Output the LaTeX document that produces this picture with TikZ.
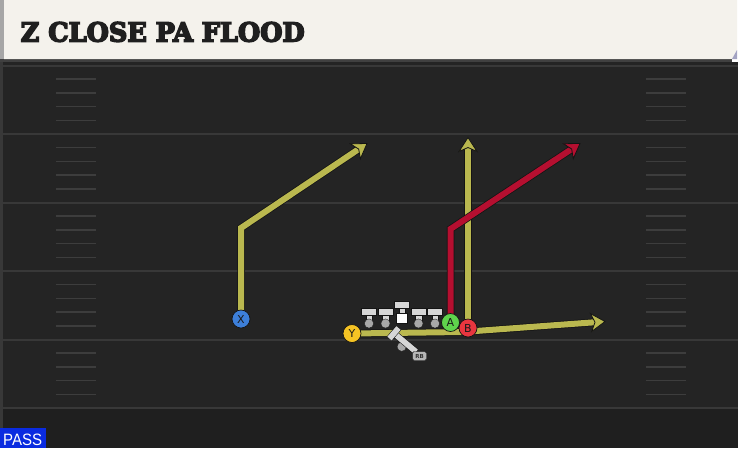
\documentclass[tikz,border=0pt]{standalone}
\usepackage{fontspec}
\setmainfont{DejaVu Sans}
\newfontfamily\titlefont{DejaVu Serif}
\newfontfamily\passfont{Liberation Sans}
\usetikzlibrary{calc}
\definecolor{fieldc}{HTML}{242424}
\definecolor{yardc}{HTML}{383838}
\definecolor{hashc}{HTML}{3D3D3D}
\definecolor{headc}{HTML}{F4F2EC}
\definecolor{edgec}{HTML}{141414}
\definecolor{yroute}{HTML}{BAB84F}
\definecolor{rroute}{HTML}{B50F30}
\definecolor{xblue}{HTML}{3D7FD9}
\definecolor{yyellow}{HTML}{F5C324}
\definecolor{agreen}{HTML}{5FD44C}
\definecolor{bred}{HTML}{E8363F}
\definecolor{linec}{HTML}{D6D6D6}
\definecolor{dotc}{HTML}{A8A8A8}
\definecolor{passblue}{HTML}{0A2BE0}
\pgfdeclarelayer{bg}
\pgfdeclarelayer{routes}
\pgfsetlayers{bg,routes,main}
\tikzset{
  route/.style={line width=6pt, draw=#1, shorten >=9pt},
  routeunder/.style={line width=7.5pt, draw=edgec, shorten >=9pt},
  routetip/.style={fill=#1, draw=edgec, line width=0.8pt, line join=miter},
  player/.style={circle, draw=edgec, line width=0.7pt, minimum size=18pt,
    inner sep=0pt, fill=#1, text=black!90, font=\fontsize{11}{11}\selectfont},
  yard/.style={draw=yardc, line width=2pt},
  hash/.style={draw=hashc, line width=1.5pt},
  lineman/.style={fill=linec, draw=edgec, line width=0.3pt},
}
% #1 = point before tip, #2 = tip point, #3 = colour
\newcommand\routetipat[3]{%
  \filldraw[routetip=#3] (#2)
    -- ($(#2)!14pt!(#1)!9pt!90:(#2)$)
    -- ($(#2)!10pt!(#1)$)
    -- ($(#2)!14pt!(#1)!9pt!-90:(#2)$) -- cycle;}
\begin{document}
\begin{tikzpicture}[x=1pt,y=-1pt]
\useasboundingbox (0,0) rectangle (738,448);
\begin{pgfonlayer}{bg}
  % field
  \fill[fieldc] (0,59) rectangle (738,448);
  \fill[black!15!fieldc] (0,408) rectangle (738,448);
  \fill[black!75] (0,59) rectangle (738,62);
  \fill[yardc] (0,62) rectangle (2.5,448);
  % yard lines and hashes
  \foreach \k in {0,...,5} {
    \pgfmathsetmacro{\yy}{65.5+68.5*\k}
    \draw[yard] (0,\yy) -- (738,\yy);
  }
  \foreach \k in {0,...,4} {
    \foreach \i in {1,...,4} {
      \pgfmathsetmacro{\yy}{65.5+68.5*\k+13.7*\i}
      \draw[hash] (56,\yy) -- (96,\yy);
      \draw[hash] (646,\yy) -- (686,\yy);
    }
  }
  % header
  \fill[white] (732,0) rectangle (738,62);
  \fill[headc] (4,0) -- (737,0) -- (737,50) -- (732,59) -- (4,59) -- cycle;
  \fill[gray!70] (0,0) rectangle (4,59);
  \fill[gray!80!blue!60] (732,59) -- (737,50) -- (737,59) -- cycle;
\end{pgfonlayer}

% title and tag
\node[anchor=base west, inner sep=0pt, text=black!88] (title) at (20.5,41.5)
  {\resizebox{284pt}{19.5pt}{\special{pdf:literal direct 2 Tr 0.6 w}\titlefont\bfseries Z CLOSE PA FLOOD\special{pdf:literal direct 0 Tr}}};
\fill[passblue] (0,428) rectangle (46,448);
\node[anchor=base west, inner sep=0pt, text=white] (pass) at (3,445)
  {\resizebox{39pt}{11.5pt}{\passfont PASS}};

% players
\node[player=xblue] (X) at (241,319) {X};
\node[player=yyellow] (Y) at (352,333.5) {Y};
\node[player=agreen] (A) at (450.5,322.5) {A};
\node[player=bred] (B) at (468,328) {B};

% route points
\coordinate (x1) at (241,228);
\coordinate (x2) at (367,143.5);
\coordinate (a1) at (450.5,229);
\coordinate (a2) at (580,143.5);
\coordinate (b1) at (468,137.5);
\coordinate (y1) at (462,332);
\coordinate (y2) at (605,321.5);

\begin{pgfonlayer}{routes}
  \draw[routeunder] (X.center) -- (x1) -- (x2);
  \draw[route=yroute] (X.center) -- (x1) -- (x2);
  \routetipat{x1}{x2}{yroute}
  \draw[routeunder] (Y.center) -- (y1) -- (y2);
  \draw[route=yroute] (Y.center) -- (y1) -- (y2);
  \routetipat{y1}{y2}{yroute}
  \draw[routeunder] (B.center) -- (b1);
  \draw[route=yroute] (B.center) -- (b1);
  \routetipat{B.center}{b1}{yroute}
  \draw[routeunder] (A.center) -- (a1) -- (a2);
  \draw[route=rroute] (A.center) -- (a1) -- (a2);
  \routetipat{a1}{a2}{rroute}
\end{pgfonlayer}

% offensive line
\foreach \xx in {369,385.5,418.5,435} {
  \filldraw[lineman] (\xx-3.2,313.5) rectangle (\xx+3.2,322);
  \filldraw[lineman] (\xx-7.5,308.5) rectangle (\xx+7.5,315);
  \filldraw[fill=dotc, draw=edgec, line width=0.3pt] (\xx,323.5) circle (4.6pt);
}
\filldraw[lineman] (398.8,306.5) rectangle (405.2,313.5);
\filldraw[lineman] (394.5,301.5) rectangle (409.5,308);
\filldraw[fill=white, draw=edgec, line width=0.3pt] (396.5,312.8) rectangle (407.5,323);

% running back
\filldraw[fill=dotc, draw=edgec, line width=0.3pt] (401.7,346.7) circle (4.6pt);
\draw[edgec, line width=6.6pt] (394,333.3) -- (416,351.7);
\draw[linec, line width=5.6pt] (394,333.3) -- (416,351.7);
\draw[edgec, line width=6.6pt] (389.5,338.5) -- (398.5,328);
\draw[linec, line width=5.6pt] (389.5,338.5) -- (398.5,328);
\node[draw=edgec, fill=linec!85!black, rounded corners=1.5pt, line width=0.4pt,
  minimum width=14pt, minimum height=9pt, inner sep=0pt,
  font=\fontsize{5.5}{5.5}\selectfont\bfseries, text=black!80] (rb) at (419.5,356) {RB};
\end{tikzpicture}
\end{document}
